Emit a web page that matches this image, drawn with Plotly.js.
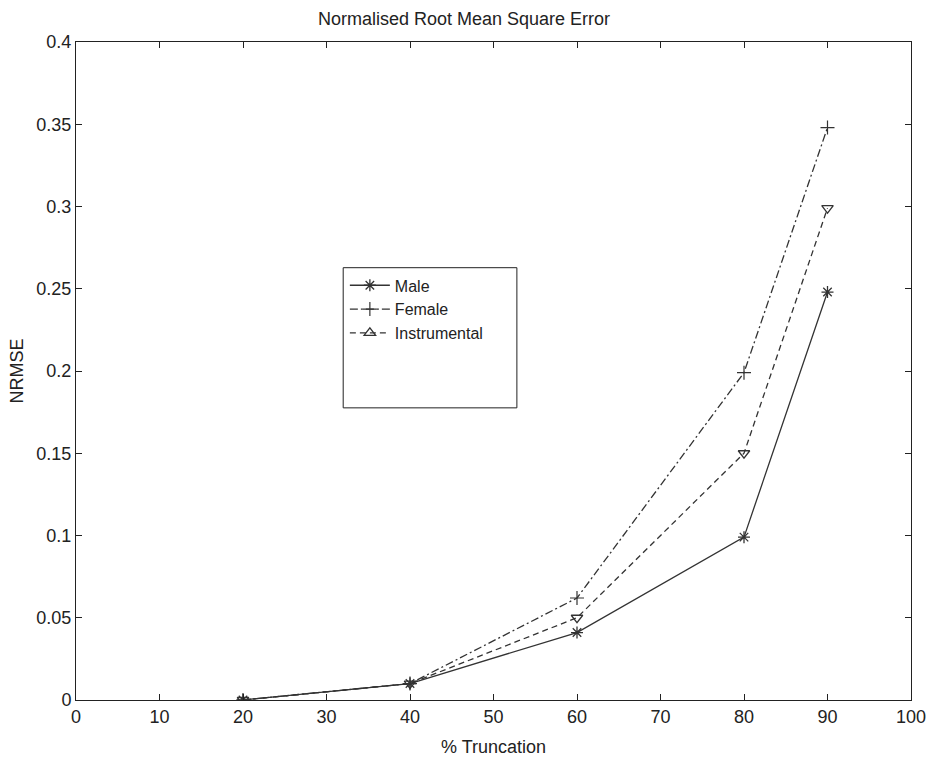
<!DOCTYPE html>
<html>
<head>
<meta charset="utf-8">
<script src="https://cdn.plot.ly/plotly-3.0.1.min.js"></script>
<style>html,body{margin:0;padding:0;background:#fff;}#chart{width:928px;height:765px;}</style>
</head>
<body>
<div id="chart"></div>
<script>
var truncation = [20, 40, 60, 80, 90];
var male = [0, 0.01, 0.041, 0.099, 0.248];
var female = [0, 0.01, 0.062, 0.199, 0.348];
var instrumental = [0, 0.01, 0.05, 0.15, 0.299];
var xTicks = [0, 10, 20, 30, 40, 50, 60, 70, 80, 90, 100];
var yTicks = [0, 0.05, 0.1, 0.15, 0.2, 0.25, 0.3, 0.35, 0.4];
var yTickText = ['0', '0.05', '0.1', '0.15', '0.2', '0.25', '0.3', '0.35', '0.4'];

var ink = '#333';
var traces = [
  {x: truncation, y: male, name: 'Male', mode: 'lines+markers',
   line: {color: ink, width: 1.3, dash: 'solid'},
   marker: {symbol: 'asterisk-open', size: 10, color: ink, line: {color: ink, width: 1.3}}},
  {x: truncation, y: female, name: 'Female', mode: 'lines+markers',
   line: {color: ink, width: 1.3, dash: '8px,3px,2px,3px'},
   marker: {symbol: 'cross-thin-open', size: 10, color: ink, line: {color: ink, width: 1.2}}},
  {x: truncation, y: instrumental, name: 'Instrumental', mode: 'lines+markers', showlegend: false,
   line: {color: ink, width: 1.3, dash: '6px,4px'},
   marker: {symbol: 'triangle-down-open', size: 10, color: ink, line: {color: ink, width: 1.3}}},
  {x: [null], y: [null], name: 'Instrumental', mode: 'lines+markers',
   line: {color: ink, width: 1.3, dash: '6px,4px'},
   marker: {symbol: 'triangle-up-open', size: 10, color: ink, line: {color: ink, width: 1.3}}}
];

var axisCommon = {
  showgrid: false, zeroline: false, showline: true, linecolor: '#222', linewidth: 1,
  mirror: 'allticks', ticks: 'inside', ticklen: 6, tickcolor: '#222',
  tickfont: {family: 'Liberation Sans, Arial, sans-serif', size: 18, color: '#222'}
};

var layout = {
  width: 928, height: 765,
  margin: {l: 76, r: 17, t: 42, b: 65},
  paper_bgcolor: '#fff', plot_bgcolor: '#fff',
  font: {family: 'Liberation Sans, Arial, sans-serif', color: '#222'},
  title: {text: 'Normalised Root Mean Square Error', font: {size: 18, color: '#222'}, x: 0.5, xanchor: 'center', y: 0.976, yanchor: 'middle'},
  xaxis: Object.assign({}, axisCommon, {range: [0, 100], tickvals: xTicks,
    title: {text: '% Truncation', font: {size: 18, color: '#222'}, standoff: 14}}),
  yaxis: Object.assign({}, axisCommon, {range: [0, 0.4], tickvals: yTicks, ticktext: yTickText,
    title: {text: 'NRMSE', font: {size: 18, color: '#222'}, standoff: 8}}),
  showlegend: true,
  legend: {x: 0.322, y: 0.656, xanchor: 'left', yanchor: 'top', bgcolor: 'rgba(0,0,0,0)',
    borderwidth: 0, font: {size: 16, color: '#222'}, tracegroupgap: 0, itemwidth: 40},
  shapes: [{type: 'rect', xref: 'paper', yref: 'paper', x0: 0.32, x1: 0.528, y0: 0.444, y1: 0.657,
    line: {color: '#222', width: 1}, fillcolor: 'rgba(0,0,0,0)'}]
};

Plotly.newPlot('chart', traces, layout, {displayModeBar: false, staticPlot: true});
</script>
</body>
</html>
